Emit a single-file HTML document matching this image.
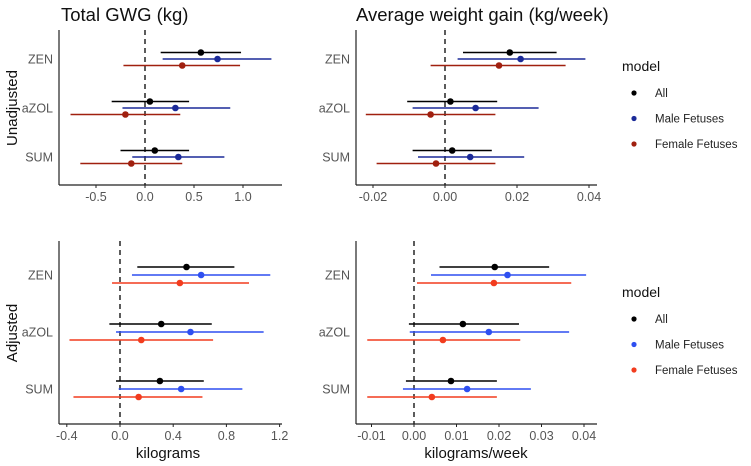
<!DOCTYPE html>
<html><head><meta charset="utf-8"><style>
body{margin:0;background:#fff}
svg{display:block;font-family:"Liberation Sans",Arial,sans-serif}
</style></head><body>
<svg id="c" width="751" height="466" viewBox="0 0 751 466"></svg>
<script>
const categories=["ZEN","aZOL","SUM"];
const models=["All","Male Fetuses","Female Fetuses"];
// [estimate, low, high] per category per model
const tlAll=[[0.57,0.16,0.98],[0.05,-0.34,0.45],[0.10,-0.25,0.45]];
const tlMale=[[0.74,0.18,1.29],[0.31,-0.23,0.87],[0.34,-0.13,0.81]];
const tlFemale=[[0.38,-0.22,0.97],[-0.20,-0.76,0.36],[-0.14,-0.66,0.38]];
const trAll=[[0.018,0.005,0.031],[0.0015,-0.0105,0.0145],[0.002,-0.009,0.013]];
const trMale=[[0.021,0.0035,0.039],[0.0085,-0.009,0.026],[0.007,-0.0075,0.022]];
const trFemale=[[0.015,-0.004,0.0335],[-0.004,-0.022,0.014],[-0.0025,-0.019,0.014]];
const blAll=[[0.50,0.13,0.86],[0.31,-0.08,0.69],[0.30,-0.03,0.63]];
const blMale=[[0.61,0.09,1.13],[0.53,-0.03,1.08],[0.46,-0.01,0.92]];
const blFemale=[[0.45,-0.06,0.97],[0.16,-0.38,0.70],[0.14,-0.35,0.62]];
const brAll=[[0.019,0.006,0.0318],[0.0115,-0.0012,0.0247],[0.0087,-0.0019,0.0195]];
const brMale=[[0.022,0.004,0.0405],[0.0176,-0.001,0.0365],[0.0125,-0.0026,0.0275]];
const brFemale=[[0.0188,0.0007,0.037],[0.0068,-0.011,0.025],[0.0042,-0.011,0.0195]];
const tlTicks=["-0.5","0.0","0.5","1.0"];
const trTicks=["-0.02","0.00","0.02","0.04"];
const blTicks=["-0.4","0.0","0.4","0.8","1.2"];
const brTicks=["-0.01","0.00","0.01","0.02","0.03","0.04"];

const svg=document.getElementById('c');
const NS="http://www.w3.org/2000/svg";
function mk(tag,at,parent){const e=document.createElementNS(NS,tag);for(const k in at)e.setAttribute(k,at[k]);(parent||svg).appendChild(e);return e;}
function txt(s,at,parent){const e=mk('text',at,parent);e.textContent=s;return e;}

const topCols=["#000000","#1b2a98","#a0200f"];
const botCols=["#000000","#2e4ff0","#f23c1e"];

function panel(name,o,series,cols,ticks){
  const g=mk('g',{});
  
  
  const sx=v=>o.x0+v*o.k;
  const rowY=[o.r0,o.r0+o.dr,o.r0+2*o.dr];
  // dashed zero line
  const z=mk('line',{x1:sx(0),x2:sx(0),y1:o.top,y2:o.bot,stroke:"#333",'stroke-width':1.6,'stroke-dasharray':'5,4'},g);
  
  
  series.forEach((ser,m)=>{
    ser.forEach((d,i)=>{
      const y=rowY[i]+(m-1)*o.off;
      const l=mk('line',{x1:sx(d[1]),x2:sx(d[2]),y1:y,y2:y,stroke:cols[m],'stroke-width':1.6},g);
      
      
      const p=mk('circle',{cx:sx(d[0]),cy:y,r:3.3,fill:cols[m]},g);
      
      
    });
  });
  // axes
  mk('line',{x1:o.ax,x2:o.ax,y1:o.top,y2:o.bot,stroke:"#222",'stroke-width':1.2},g);
  mk('line',{x1:o.ax,x2:o.xr,y1:o.bot,y2:o.bot,stroke:"#222",'stroke-width':1.2},g);
  categories.forEach((c,i)=>{
    const t=txt(c,{x:o.ax-6,y:rowY[i]+4.5,'text-anchor':'end','font-size':12.5,fill:"#555"},g);
    
    
  });
  ticks.forEach(s=>{
    const v=parseFloat(s);
    mk('line',{x1:sx(v),x2:sx(v),y1:o.bot,y2:o.bot+3,stroke:"#222",'stroke-width':1},g);
    const t=txt(s,{x:sx(v),y:o.bot+16,'text-anchor':'middle','font-size':12.5,fill:"#555"},g);
    
    
  });
}
panel('panel-total-gwg-unadjusted',{x0:145,k:98,ax:59,xr:282,top:30,bot:185,r0:59,dr:49,off:6.5},[tlAll,tlMale,tlFemale],topCols,tlTicks);
panel('panel-avg-gain-unadjusted',{x0:445,k:3600,ax:356,xr:597,top:30,bot:185,r0:59,dr:49,off:6.5},[trAll,trMale,trFemale],topCols,trTicks);
panel('panel-total-gwg-adjusted',{x0:120,k:133,ax:59,xr:282,top:241,bot:424,r0:275,dr:57,off:8},[blAll,blMale,blFemale],botCols,blTicks);
panel('panel-avg-gain-adjusted',{x0:414,k:4250,ax:356,xr:597,top:241,bot:424,r0:275,dr:57,off:8},[brAll,brMale,brFemale],botCols,brTicks);

let t;
t=txt("Total GWG (kg)",{x:61,y:21,'font-size':18.5,fill:"#111"});

t=txt("Average weight gain (kg/week)",{x:356,y:21,'font-size':18.5,fill:"#111"});

t=txt("Unadjusted",{x:0,y:0,'font-size':15,fill:"#111",'text-anchor':'middle',transform:'translate(17,108) rotate(-90)'});

t=txt("Adjusted",{x:0,y:0,'font-size':15,fill:"#111",'text-anchor':'middle',transform:'translate(17,333) rotate(-90)'});

t=txt("kilograms",{x:168,y:458,'font-size':15,fill:"#111",'text-anchor':'middle'});

t=txt("kilograms/week",{x:476,y:458,'font-size':15,fill:"#111",'text-anchor':'middle'});


function legend(y0,cols,name){
  const g=mk('g',{});
  
  
  txt("model",{x:622,y:y0,'font-size':14,fill:"#111"},g);
  models.forEach((m,i)=>{
    const y=y0+26+i*25.5;
    const e=mk('g',{},g);
    
    
    mk('circle',{cx:634,cy:y-4,r:2.6,fill:cols[i]},e);
    txt(m,{x:655,y:y,'font-size':11.5,fill:"#222"},e);
  });
}
legend(71,topCols,'legend-unadjusted');
legend(297,botCols,'legend-adjusted');
</script>
</body></html>
